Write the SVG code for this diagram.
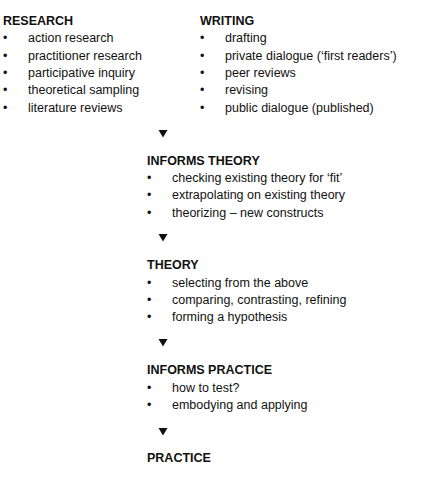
<svg xmlns="http://www.w3.org/2000/svg" width="426" height="480" viewBox="0 0 426 480">
<style>
text{font-family:"Liberation Sans",Arial,sans-serif;font-size:12.5px;fill:#111}
.h{font-weight:bold}
.arrow{fill:#111}
</style>
<defs>
<polygon id="tri" class="arrow" points="-4.5,0 4.5,0 0,7.5"/>
</defs>
<rect width="426" height="480" fill="#fff"/>
<g id="research">
<text class="h" x="3" y="25">RESEARCH</text>
<text x="3" y="42">•</text><text x="28" y="42">action research</text>
<text x="3" y="59.5">•</text><text x="28" y="59.5">practitioner research</text>
<text x="3" y="77">•</text><text x="28" y="77">participative inquiry</text>
<text x="3" y="94.3">•</text><text x="28" y="94.3">theoretical sampling</text>
<text x="3" y="111.7">•</text><text x="28" y="111.7">literature reviews</text>
</g>
<g id="writing">
<text class="h" x="200" y="25">WRITING</text>
<text x="200" y="42">•</text><text x="225" y="42">drafting</text>
<text x="200" y="59.5">•</text><text x="225" y="59.5">private dialogue (‘first readers’)</text>
<text x="200" y="77">•</text><text x="225" y="77">peer reviews</text>
<text x="200" y="94.3">•</text><text x="225" y="94.3">revising</text>
<text x="200" y="111.7">•</text><text x="225" y="111.7">public dialogue (published)</text>
</g>
<g id="informs-theory">
<text class="h" x="147" y="165">INFORMS THEORY</text>
<text x="147" y="182">•</text><text x="172" y="182">checking existing theory for ‘fit’</text>
<text x="147" y="199.3">•</text><text x="172" y="199.3">extrapolating on existing theory</text>
<text x="147" y="216.6">•</text><text x="172" y="216.6">theorizing – new constructs</text>
</g>
<g id="theory">
<text class="h" x="147" y="269">THEORY</text>
<text x="147" y="286.5">•</text><text x="172" y="286.5">selecting from the above</text>
<text x="147" y="303.8">•</text><text x="172" y="303.8">comparing, contrasting, refining</text>
<text x="147" y="321.1">•</text><text x="172" y="321.1">forming a hypothesis</text>
</g>
<g id="informs-practice">
<text class="h" x="147" y="374">INFORMS PRACTICE</text>
<text x="147" y="391.5">•</text><text x="172" y="391.5">how to test?</text>
<text x="147" y="408.8">•</text><text x="172" y="408.8">embodying and applying</text>
</g>
<g id="practice">
<text class="h" x="147" y="461.5">PRACTICE</text>
</g>
<g id="connectors">
<use href="#tri" x="163" y="130"/>
<use href="#tri" x="163" y="234"/>
<use href="#tri" x="163" y="339"/>
<use href="#tri" x="163" y="428"/>
</g>
</svg>
